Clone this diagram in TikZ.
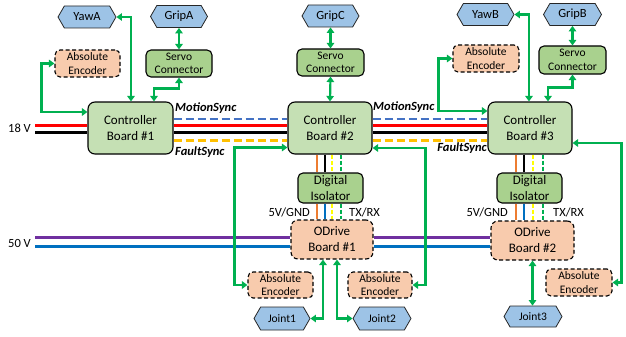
\documentclass[tikz,border=0pt]{standalone}
\usepackage{fontspec}
\setmainfont{Carlito}
\usetikzlibrary{shapes.symbols,arrows.meta}

\definecolor{linkGreen}{HTML}{00B050}
\definecolor{boardFill}{HTML}{C5E0B4}
\definecolor{servoFill}{HTML}{A9D18E}
\definecolor{hexFill}{HTML}{9DC3E6}
\definecolor{peachFill}{HTML}{F8CBAD}
\definecolor{syncBlue}{HTML}{4472C4}
\definecolor{syncGold}{HTML}{FFC000}
\definecolor{wireRed}{HTML}{FF0000}
\definecolor{wireOrange}{HTML}{ED7D31}
\definecolor{wireBlue}{HTML}{0070C0}
\definecolor{wirePurple}{HTML}{7030A0}
\definecolor{wireYellow}{HTML}{FFFF00}

\tikzset{
  board/.style={draw=black, line width=1.1pt, fill=boardFill, rounded corners=7pt,
    align=center, inner sep=0pt, font=\fontsize{13}{16}\selectfont},
  greenbox/.style={draw=black, line width=1.1pt, fill=servoFill, rounded corners=5pt,
    align=center, inner sep=0pt, font=\fontsize{11.5}{13.5}\selectfont},
  isobox/.style={greenbox, font=\fontsize{13}{15.5}\selectfont},
  peachbox/.style={draw=black, line width=1.1pt, dash pattern=on 4pt off 2.5pt,
    fill=peachFill, rounded corners=5pt, align=center, inner sep=0pt,
    font=\fontsize{11.5}{13.5}\selectfont},
  odrivebox/.style={peachbox, rounded corners=7pt, font=\fontsize{13}{16}\selectfont},
  hexbox/.style={signal, signal to=east and west, signal pointer angle=120,
    draw=black!85, line width=0.8pt, fill=hexFill, inner sep=0pt,
    font=\fontsize{12.5}{14}\selectfont},
  jointbox/.style={hexbox, font=\fontsize{11.5}{13}\selectfont},
  link/.style={draw=linkGreen, line width=2.2pt,
    {Triangle[width=7.5pt,length=5.5pt]}-{Triangle[width=7.5pt,length=5.5pt]}},
  wire/.style={line width=2.6pt},
  syncwire/.style={line width=2.6pt, dash pattern=on 8pt off 4pt},
  sigwire/.style={line width=2.2pt, dash pattern=on 4pt off 2pt},
  tag/.style={inner sep=0pt, font=\fontsize{12.5}{14}\selectfont},
  synctag/.style={inner sep=0pt, font=\fontsize{12.5}{14}\selectfont\bfseries\itshape},
}

\begin{document}
\begin{tikzpicture}[x=1pt,y=-1pt]
\useasboundingbox (0,0) rectangle (626,337);

% ---------- controller boards ----------
\node[board, minimum width=85pt, minimum height=52pt] (board1) at (130.5,128) {Controller\\Board \#1};
\node[board, minimum width=84pt, minimum height=52pt] (board2) at (330,128) {Controller\\Board \#2};
\node[board, minimum width=84pt, minimum height=52pt] (board3) at (530,128) {Controller\\Board \#3};

% ---------- peripherals of board 1 ----------
\node[hexbox, minimum width=58pt, minimum height=22pt] (yawA) at (87,17) {YawA};
\node[hexbox, minimum width=57pt, minimum height=22pt] (gripA) at (179,16.5) {GripA};
\node[peachbox, minimum width=65pt, minimum height=27pt] (encA) at (87.5,63.5) {Absolute\\Encoder};
\node[greenbox, minimum width=66pt, minimum height=27pt] (servoA) at (179,63.5) {Servo\\Connector};

% ---------- peripherals of board 2 ----------
\node[hexbox, minimum width=57pt, minimum height=22pt] (gripC) at (330.5,16) {GripC};
\node[greenbox, minimum width=67pt, minimum height=27pt] (servoC) at (330.5,62.5) {Servo\\Connector};

% ---------- peripherals of board 3 ----------
\node[hexbox, minimum width=57pt, minimum height=22pt] (yawB) at (485.5,14.5) {YawB};
\node[hexbox, minimum width=58pt, minimum height=22pt] (gripB) at (572.5,14.5) {GripB};
\node[peachbox, minimum width=66pt, minimum height=27pt] (encB) at (486,58.5) {Absolute\\Encoder};
\node[greenbox, minimum width=67pt, minimum height=28pt] (servoB) at (572.5,60) {Servo\\Connector};

% ---------- isolators and ODrives ----------
\node[isobox, minimum width=65pt, minimum height=30pt] (iso1) at (330.5,188) {Digital\\Isolator};
\node[isobox, minimum width=65pt, minimum height=30pt] (iso2) at (529.5,188) {Digital\\Isolator};
\node[odrivebox, minimum width=82pt, minimum height=39pt] (odrive1) at (332,239.5) {ODrive\\Board \#1};
\node[odrivebox, minimum width=83pt, minimum height=39pt] (odrive2) at (532.5,240.5) {ODrive\\Board \#2};

% ---------- joint encoders and joints ----------
\node[peachbox, minimum width=65pt, minimum height=26pt] (enc1) at (280.5,285) {Absolute\\Encoder};
\node[peachbox, minimum width=64pt, minimum height=26pt] (enc2) at (380,285) {Absolute\\Encoder};
\node[peachbox, minimum width=66pt, minimum height=27pt] (enc3) at (579,282.5) {Absolute\\Encoder};
\node[jointbox, minimum width=56pt, minimum height=23pt] (joint1) at (282,318.5) {Joint1};
\node[jointbox, minimum width=58pt, minimum height=23pt] (joint2) at (382,318.5) {Joint2};
\node[jointbox, minimum width=58pt, minimum height=21pt] (joint3) at (533,316.5) {Joint3};

% ---------- supply labels ----------
\node[tag, anchor=east] (v18) at (31,128) {18 V};
\node[tag, anchor=east] (v50) at (31,243) {50 V};
\coordinate (v18red) at (35,125.5);
\coordinate (v18blk) at (35,132.5);
\coordinate (v50pur) at (35,237.5);
\coordinate (v50blu) at (35,246.5);

% ---------- 18 V bus and sync lines ----------
\draw[wire, wireRed] (v18red) -- (board1.west |- v18red)
  (board1.east |- v18red) -- (board2.west |- v18red)
  (board2.east |- v18red) -- (board3.west |- v18red);
\draw[wire, black] (v18blk) -- (board1.west |- v18blk)
  (board1.east |- v18blk) -- (board2.west |- v18blk)
  (board2.east |- v18blk) -- (board3.west |- v18blk);
\draw[syncwire, syncBlue] ([yshift=9pt]board1.east) -- ([yshift=9pt]board2.west)
  ([yshift=9pt]board2.east) -- ([yshift=9pt]board3.west);
\draw[syncwire, syncGold] ([yshift=-12.5pt]board1.east) -- ([yshift=-12.5pt]board2.west)
  ([yshift=-12.5pt]board2.east) -- ([yshift=-12.5pt]board3.west);

\node[synctag, anchor=west] (ms1) at (175,108) {MotionSync};
\node[synctag, anchor=west] (ms2) at (373,107) {MotionSync};
\node[synctag, anchor=west] (fs1) at (175,152) {FaultSync};
\node[synctag, anchor=east] (fs2) at (487,148) {FaultSync};

% ---------- 50 V bus ----------
\draw[wire, wirePurple] (v50pur) -- (odrive1.west |- v50pur)
  (odrive1.east |- v50pur) -- (odrive2.west |- v50pur);
\draw[wire, wireBlue] (v50blu) -- (odrive1.west |- v50blu)
  (odrive1.east |- v50blu) -- (odrive2.west |- v50blu);

% ---------- board -> isolator -> ODrive wiring ----------
\foreach \b/\i/\o/\xa/\xb/\xc/\xd in {board2/iso1/odrive1/317/325/332/341, board3/iso2/odrive2/516/524/533/543}{
  \draw[wire, line width=2.2pt, wireOrange] (\b.south -| \xa,0) -- (\i.north -| \xa,0);
  \draw[wire, line width=2.2pt, black] (\b.south -| \xb,0) -- (\i.north -| \xb,0);
  \draw[sigwire, wireYellow] (\b.south -| \xc,0) -- (\i.north -| \xc,0);
  \draw[sigwire, linkGreen] (\b.south -| \xd,0) -- (\i.north -| \xd,0);
  \draw[wire, line width=2.2pt, wireOrange] (\i.south -| \xa,0) -- (\o.north -| \xa,0);
  \draw[wire, line width=2.2pt, wireBlue] (\i.south -| \xb,0) -- (\o.north -| \xb,0);
  \draw[sigwire, wireYellow] (\i.south -| \xc,0) -- (\o.north -| \xc,0);
  \draw[sigwire, linkGreen] (\i.south -| \xd,0) -- (\o.north -| \xd,0);
}
\node[tag, anchor=east] (pw1) at (310,212) {5V/GND};
\node[tag, anchor=west] (tx1) at (349,212) {TX/RX};
\node[tag, anchor=east] (pw2) at (508,212) {5V/GND};
\node[tag, anchor=west] (tx2) at (553,212) {TX/RX};

% ---------- green links, board 1 ----------
\draw[link] ([xshift=0.5pt]board1.north) |- (yawA.east);
\draw[link] ([xshift=23.5pt]board1.north) -- ++(0,-13) -| (servoA.south);
\draw[link] (servoA.north) -- (servoA.north |- gripA.south);
\draw[link] ([yshift=16pt]board1.west) -- ++(-46,0) |- (encA.west);

% ---------- green links, board 2 ----------
\draw[link] (servoC.north) -- (servoC.north |- gripC.south);
\draw[link] (board2.north) -- (servoC.south);
\draw[link] ([yshift=-19.5pt]board2.west) -- ++(-53,0) |- (enc1.west);
\draw[link] ([yshift=-20pt]board2.east) -- ++(53,0) |- (enc2.east);

% ---------- green links, board 3 ----------
\draw[link] ([xshift=-1pt]board3.north) |- (yawB.east);
\draw[link] ([xshift=18pt]board3.north) -- ++(0,-14) -| (servoB.south);
\draw[link] (servoB.north) -- (servoB.north |- gripB.south);
\draw[link] ([yshift=17pt]board3.west) -- ++(-49,0) |- (encB.west);
\draw[link] ([yshift=-15pt]board3.east) -- ++(49,0) |- (enc3.east);

% ---------- green links, ODrives to joints ----------
\draw[link] ([xshift=-9pt]odrive1.south) |- (joint1.east);
\draw[link] ([xshift=5pt]odrive1.south) |- (joint2.west);
\draw[link] (odrive2.south) -- (odrive2.south |- joint3.north);
\end{tikzpicture}
\end{document}
